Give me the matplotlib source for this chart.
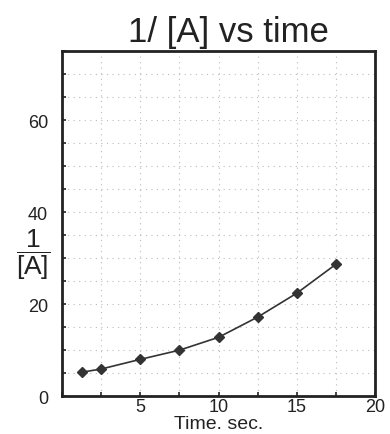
import matplotlib.pyplot as plt
from matplotlib.ticker import MultipleLocator

plt.rcParams['font.family'] = ['Liberation Sans', 'DejaVu Sans']
plt.rcParams['mathtext.fontset'] = 'custom'
plt.rcParams['mathtext.rm'] = 'Liberation Sans'

# data
time_sec = [1.25, 2.5, 5, 7.5, 10, 12.5, 15, 17.5]
inv_conc = [5.2, 5.9, 8.0, 10.0, 12.8, 17.2, 22.4, 28.7]
x_ticks = [5, 10, 15, 20]
y_ticks = [0, 20, 40, 60]

fig = plt.figure(figsize=(3.9, 4.35), dpi=100)
ax = fig.add_axes([0.159, 0.087, 0.803, 0.793])

ax.plot(time_sec, inv_conc, color='#333333', linewidth=1.2,
        marker='D', markersize=5, markerfacecolor='#333333',
        markeredgecolor='#333333')

ax.set_xlim(0, 20)
ax.set_ylim(0, 75)
ax.set_xticks(x_ticks)
ax.set_yticks(y_ticks)
ax.xaxis.set_minor_locator(MultipleLocator(2.5))
ax.yaxis.set_minor_locator(MultipleLocator(5))
ax.tick_params(which='both', direction='in', length=3, width=1.2,
               labelsize=13, colors='#222222')
ax.tick_params(axis='x', pad=1)
ax.tick_params(axis='y', pad=10)
ax.grid(True, which='both', linestyle=(0, (1, 4)), color='#bbbbbb',
        linewidth=0.8)
for s in ax.spines.values():
    s.set_linewidth(2)
    s.set_color('#222222')

ax.set_title('1/ [A] vs time', fontsize=25, pad=7, x=0.53, color='#222222')
ax.set_xlabel('Time. sec.', fontsize=14, labelpad=0, color='#222222')
fig.text(0.085, 0.415, r'$\dfrac{1}{[\mathrm{A}]}$', fontsize=19,
         ha='center', va='center', color='#222222')

plt.savefig('out.png', dpi=100)
